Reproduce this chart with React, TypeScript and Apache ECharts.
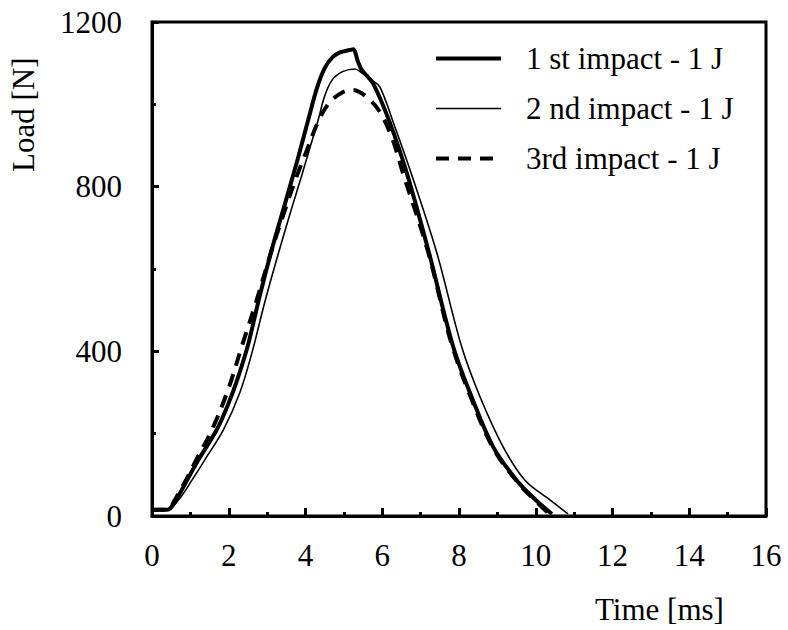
import React, { useEffect, useRef } from "react";
import * as echarts from "echarts";

const seriesNames = ["1 st impact - 1 J", "2 nd impact - 1 J", "3rd impact - 1 J"];

const time1 = [0, 0.4, 0.6, 0.9, 1.2, 1.5, 1.72, 2.0, 2.2, 2.5, 2.77, 3.1, 3.47, 3.8, 4.07, 4.3, 4.5, 4.7, 4.9, 5.16, 5.24, 5.37, 5.47, 5.76, 6.2, 6.64, 7.2, 7.85, 8.33, 8.89, 9.5, 10.0, 10.42];
const load1 = [15, 15, 35, 85, 135, 180, 215, 275, 325, 415, 520, 640, 760, 868, 962, 1040, 1088, 1114, 1126, 1132, 1134, 1103, 1083, 1051, 955, 833, 646, 411, 289, 168, 87, 39, 5];

const time2 = [0, 0.4, 0.7, 1.04, 1.4, 1.86, 2.29, 2.6, 2.94, 3.3, 3.68, 3.81, 4.05, 4.33, 4.5, 4.7, 4.98, 5.29, 5.47, 5.73, 5.94, 6.33, 6.8, 7.42, 8.07, 8.55, 9.15, 9.72, 10.37, 10.84];
const load2 = [15, 15, 40, 87, 140, 209, 300, 395, 520, 640, 760, 799, 874, 962, 1020, 1060, 1080, 1086, 1076, 1059, 1042, 945, 820, 640, 411, 289, 168, 87, 39, 5];

const time3 = [0, 0.4, 0.6, 0.9, 1.2, 1.56, 1.98, 2.35, 2.73, 3.1, 3.47, 3.73, 4.0, 4.35, 4.64, 4.98, 5.24, 5.63, 5.94, 6.25, 6.54, 7.2, 7.8, 8.33, 8.89, 9.5, 10.0, 10.35];
const load3 = [15, 15, 40, 90, 145, 209, 306, 415, 525, 640, 745, 815, 880, 962, 1006, 1030, 1035, 1015, 981, 920, 833, 640, 420, 283, 165, 85, 36, 5];

const xMin = 0, xMax = 16, xStep = 2;
const yMin = 0, yMax = 1200, yStep = 400;

const FONT = "Liberation Serif";
const FS = 31;

const lineWidths = [4, 1.6, 4];
const lineTypes: any[] = ["solid", "solid", [13, 9]];

const pairs = (t: number[], l: number[]) => t.map((v, i) => [v, l[i]]);

export default function App() {
  const ref = useRef<HTMLDivElement>(null);
  useEffect(() => {
    document.body.style.margin = "0";
    const chart = echarts.init(ref.current!, null, { renderer: "svg" });
    const axisCommon = {
      axisLine: { show: true, onZero: false, lineStyle: { color: "#000", width: 3 } },
      axisTick: { show: true, inside: true, length: 8, lineStyle: { color: "#000", width: 3 } },
      minorTick: { show: true, splitNumber: 2, length: 4, lineStyle: { color: "#000", width: 3 } },
      splitLine: { show: false },
      minorSplitLine: { show: false },
      axisLabel: { color: "#000", fontSize: FS, fontFamily: FONT, formatter: (v: number) => String(v) },
    };
    const allData = [pairs(time1, load1), pairs(time2, load2), pairs(time3, load3)];
    chart.setOption({
      animation: false,
      backgroundColor: "#fff",
      grid: {
        left: 152, top: 22, right: 22, bottom: 114,
        show: true, borderColor: "#000", borderWidth: 3, backgroundColor: "transparent",
      },
      legend: {
        show: true,
        orient: "vertical",
        left: 429,
        top: 38,
        itemWidth: 65,
        itemHeight: 16,
        itemGap: 19,
        data: seriesNames.map((n, i) => ({
          name: n,
          lineStyle: { color: "#000", width: lineWidths[i], type: lineTypes[i] },
          itemStyle: { color: "transparent", borderColor: "transparent", borderWidth: 0, opacity: 0 },
        })),
        textStyle: { color: "#000", fontSize: FS, fontFamily: FONT, padding: [0, 0, 0, 20] },
      },
      xAxis: {
        type: "value", min: xMin, max: xMax, interval: xStep,
        ...axisCommon,
        axisLabel: { ...axisCommon.axisLabel, margin: 24 },
      },
      yAxis: {
        type: "value", min: yMin, max: yMax, interval: yStep,
        ...axisCommon,
        axisTick: { ...axisCommon.axisTick, length: 7 },
        axisLabel: { ...axisCommon.axisLabel, margin: 30 },
      },
      graphic: [
        {
          type: "text", left: 595, top: 594,
          style: { text: "Time [ms]", fill: "#000", fontSize: FS, fontFamily: FONT },
        },
        {
          type: "text", x: 8, y: 172, rotation: Math.PI / 2,
          style: { text: "Load [N]", fill: "#000", fontSize: FS, fontFamily: FONT },
        },
      ],
      series: seriesNames.map((n, i) => ({
        name: n, type: "line", data: allData[i], symbol: "none",
        smooth: 0.35,
        lineStyle: { color: "#000", width: lineWidths[i], type: lineTypes[i] },
        itemStyle: { color: "#000" },
        z: [3, 2, 4][i],
      })),
    });
    return () => chart.dispose();
  }, []);
  return <div ref={ref} style={{ position: "absolute", left: 0, top: 0, width: 788, height: 630 }} />;
}
